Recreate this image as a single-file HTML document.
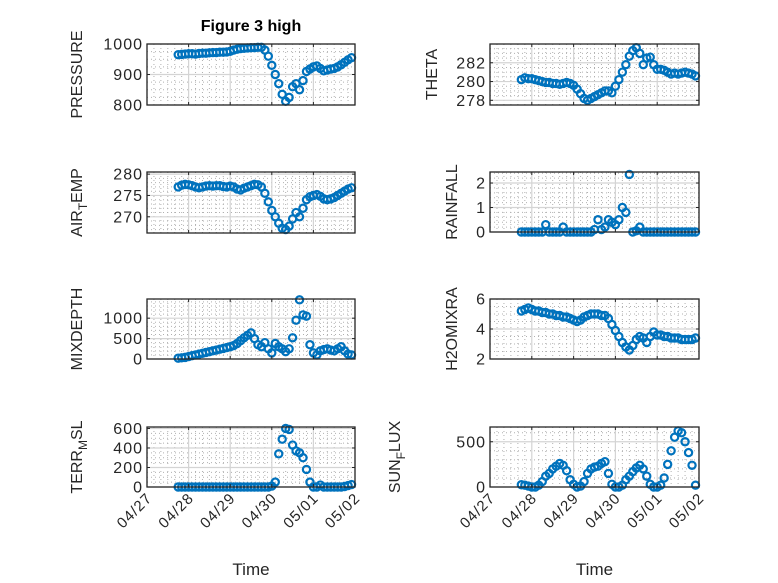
<!DOCTYPE html>
<html><head><meta charset="utf-8"><style>
body{margin:0;background:#fff;}
svg{display:block;font-family:"Liberation Sans","DejaVu Sans",sans-serif;}
</style></head><body>
<svg id="fig" width="778" height="583" viewBox="0 0 778 583" xmlns="http://www.w3.org/2000/svg">
<rect width="778" height="583" fill="#fff"/>
<text x="251" y="31" font-size="16" font-weight="bold" text-anchor="middle" fill="#000">Figure 3 high</text>
</svg>
<script>
// ---- data (time in days after 04/27 00:00, 2-hour steps) ----
const xTickLabels = ["04/27","04/28","04/29","04/30","05/01","05/02"];
const tStart = 0.75, tStep = 1/12;
const pressure = [965,966,967,968,968,967,969,970,970,971,972,972,973,973,974,976,980,983,985,986,987,988,988,989,989,980,960,930,900,870,835,812,825,860,870,850,880,910,918,925,928,920,912,915,918,920,925,932,940,948,955];
const airTemp = [277,277.4,277.6,277.5,277.3,277,276.8,277,277.2,277.3,277.2,277.3,277.3,277.1,277,277.2,277,276.5,276.3,276.7,277,277.3,277.6,277.5,277,275.5,273.5,271.5,270,268.5,267.3,267,267.8,269.5,271,270,272,274,274.7,275,275.2,274.8,274.2,274,274.2,274.5,275,275.5,276,276.5,276.8];
const mixDepth = [20,30,40,60,80,100,120,140,160,180,200,220,240,260,280,300,330,380,450,520,580,640,500,350,300,400,250,150,380,300,250,180,250,520,950,1450,1080,1050,350,150,100,200,230,250,220,200,250,300,200,120,100];
const terrMsl = [0,0,0,0,0,0,0,0,0,0,0,0,0,0,0,0,0,0,0,0,0,0,0,0,0,0,0,10,50,340,490,600,590,430,370,350,300,180,50,0,0,20,0,0,0,0,0,0,5,15,25];
const theta = [280.2,280.4,280.3,280.3,280.2,280.1,280,279.9,279.9,279.8,279.8,279.7,279.8,279.9,279.8,279.6,279.2,278.7,278.2,278,278.2,278.4,278.6,278.8,279,279,278.8,279.5,280.2,281,281.8,282.7,283.3,283.6,283,281.8,282.5,282.6,281.8,281.3,281.3,281.2,281,280.8,280.9,280.8,280.9,281,280.9,280.8,280.6];
const rainfall = [0,0,0,0,0,0,0,0.3,0,0,0,0,0.2,0,0,0,0,0,0,0,0,0.1,0.5,0.1,0.2,0.5,0.4,0.3,0.5,1.0,0.8,2.35,0,0.05,0.2,0,0,0,0,0,0,0,0,0,0,0,0,0,0,0,0];
const h2oMix = [5.2,5.3,5.4,5.3,5.2,5.2,5.1,5.1,5.0,5.0,4.9,4.9,4.8,4.8,4.7,4.6,4.5,4.6,4.8,4.9,5.0,5.0,5.0,4.9,4.9,4.7,4.3,3.9,3.5,3.1,2.8,2.6,2.9,3.3,3.5,3.4,3.1,3.5,3.8,3.6,3.6,3.5,3.5,3.4,3.4,3.4,3.3,3.3,3.3,3.3,3.4];
const sunFlux = [25,20,10,0,0,20,60,120,150,200,230,260,240,180,80,30,0,10,60,150,200,220,230,260,280,150,30,0,0,20,80,120,170,210,240,200,120,30,0,0,20,100,250,400,550,620,600,500,380,240,20];

const pressureTicks=[800,900,1000], airTicks=[270,275,280], mixTicks=[0,500,1000], terrTicks=[0,200,400,600];
const thetaTicks=[278,280,282], rainTicks=[0,1,2], h2oTicks=[2,4,6], sunTicks=[0,500];

const svg=document.getElementById('fig');
const NS='http://www.w3.org/2000/svg';
function mk(tag,attrs,parent){const e=document.createElementNS(NS,tag);for(const k in attrs)e.setAttribute(k,attrs[k]);(parent||svg).appendChild(e);return e;}

const panels=[
 {name:'pressure',x:147,y:44,w:208,h:61,ymin:800,ymax:1000,ticks:pressureTicks,minor:25,data:pressure,label:['PRESSURE'],lx:82,xl:false},
 {name:'air-temp',x:147,y:172,w:208,h:61,ymin:266.2,ymax:280.5,ticks:airTicks,minor:1,data:airTemp,label:['AIR','T','EMP'],lx:82,xl:false},
 {name:'mixdepth',x:147,y:299,w:208,h:60,ymin:0,ymax:1470,ticks:mixTicks,minor:100,data:mixDepth,label:['MIXDEPTH'],lx:82,xl:false},
 {name:'terr-msl',x:147,y:427,w:208,h:60,ymin:0,ymax:615,ticks:terrTicks,minor:50,data:terrMsl,label:['TERR','M','SL'],lx:82,xl:true},
 {name:'theta',x:490,y:44,w:209,h:61,ymin:277.5,ymax:284,ticks:thetaTicks,minor:0.5,data:theta,label:['THETA'],lx:437,xl:false},
 {name:'rainfall',x:490,y:172,w:209,h:60,ymin:0,ymax:2.45,ticks:rainTicks,minor:0.2,data:rainfall,label:['RAINFALL'],lx:457,xl:false},
 {name:'h2omixra',x:490,y:299,w:209,h:60,ymin:2,ymax:6,ticks:h2oTicks,minor:0.5,data:h2oMix,label:['H2OMIXRA'],lx:457,xl:false},
 {name:'sun-flux',x:490,y:427,w:209,h:60,ymin:0,ymax:663,ticks:sunTicks,minor:100,data:sunFlux,label:['SUN','F','LUX'],lx:400,xl:true}
];

panels.forEach(p=>{
  const g=mk('g',{});
  
  
  const xs=d=>p.x+d/5*p.w;
  const ys=v=>p.y+p.h-(v-p.ymin)/(p.ymax-p.ymin)*p.h;
  for(let k=0;k<30;k++){if(k%6===0)continue;const x=xs(k/6);mk('line',{x1:x,x2:x,y1:p.y,y2:p.y+p.h,stroke:'#b0b0b0','stroke-width':1,'stroke-dasharray':'1,3'},g);}
  const m0=Math.ceil(p.ymin/p.minor);
  for(let k=m0;k*p.minor<=p.ymax+1e-9;k++){const v=k*p.minor;if(p.ticks.some(t=>Math.abs(t-v)<1e-6))continue;const y=ys(v);mk('line',{x1:p.x,x2:p.x+p.w,y1:y,y2:y,stroke:'#b0b0b0','stroke-width':1,'stroke-dasharray':'1,3'},g);}
  xTickLabels.forEach((l,i)=>{const x=xs(i);mk('line',{x1:x,x2:x,y1:p.y,y2:p.y+p.h,stroke:'#d4d4d4','stroke-width':1.2},g);});
  p.ticks.forEach(t=>{const y=ys(t);mk('line',{x1:p.x,x2:p.x+p.w,y1:y,y2:y,stroke:'#d4d4d4','stroke-width':1.2},g);});
  p.data.forEach((v,i)=>{
    const c=mk('circle',{cx:xs(tStart+i*tStep),cy:ys(v),r:3.6,fill:'none',stroke:'#0072BD','stroke-width':2.2},g);
    
    
  });
  mk('rect',{x:p.x,y:p.y,width:p.w,height:p.h,fill:'none',stroke:'#262626','stroke-width':1.3},g);
  xTickLabels.forEach((l,i)=>{const x=xs(i);mk('line',{x1:x,x2:x,y1:p.y+p.h,y2:p.y+p.h-3,stroke:'#262626'},g);mk('line',{x1:x,x2:x,y1:p.y,y2:p.y+3,stroke:'#262626'},g);
    if(p.xl){const t=mk('text',{x:0,y:0,'font-size':15,'letter-spacing':1,fill:'#262626','text-anchor':'end',transform:`translate(${x+6},${p.y+p.h+12}) rotate(-45)`},g);t.textContent=l;
      
      }
  });
  p.ticks.forEach(tv=>{const y=ys(tv);mk('line',{x1:p.x,x2:p.x+3,y1:y,y2:y,stroke:'#262626'},g);mk('line',{x1:p.x+p.w,x2:p.x+p.w-3,y1:y,y2:y,stroke:'#262626'},g);
    const t=mk('text',{x:p.x-4,y:y+5.5,'font-size':16,'letter-spacing':1,fill:'#262626','text-anchor':'end'},g);t.textContent=String(tv);
    
    });
  const cy=p.y+p.h/2;
  const yl=mk('text',{x:0,y:0,'font-size':16,fill:'#262626','text-anchor':'middle',transform:`translate(${p.lx},${cy}) rotate(-90)`},g);
  
  
  if(p.label.length===1){yl.textContent=p.label[0];}
  else{const a=mk('tspan',{},yl);a.textContent=p.label[0];const b=mk('tspan',{dy:5,'font-size':12},yl);b.textContent=p.label[1];const c=mk('tspan',{dy:-5},yl);c.textContent=p.label[2];}
  if(p.xl){const xt=mk('text',{x:p.x+p.w/2,y:575,'font-size':17,fill:'#262626','text-anchor':'middle'},g);xt.textContent='Time';
    
    }
});
</script>
</body></html>
